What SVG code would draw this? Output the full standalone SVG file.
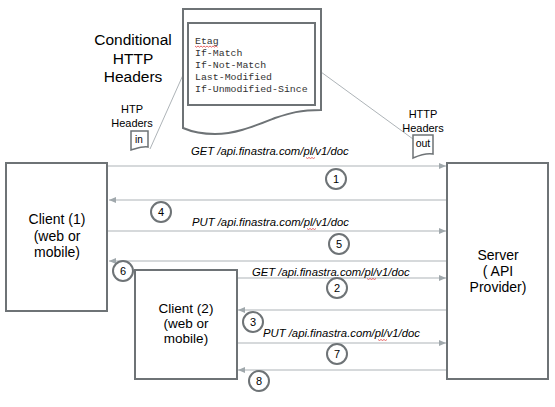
<svg xmlns="http://www.w3.org/2000/svg" width="555" height="407" viewBox="0 0 555 407">
<style>
.box{fill:#fff;stroke:#6e7376;stroke-width:2}
.doc{fill:#fff;stroke:#6e7376;stroke-width:2}
.conn{stroke:#aeb4b8;stroke-width:1;fill:none}
.arr{stroke:#aeb4b8;stroke-width:1.2;fill:none}
.circ{fill:#fff;stroke:#6e7376;stroke-width:2}
.t{font-family:"Liberation Sans",Arial,sans-serif;fill:#000;text-anchor:middle}
.lbl{font-family:"Liberation Sans",Arial,sans-serif;font-style:italic;font-size:11.3px;fill:#000}
.num{font-family:"Liberation Sans",Arial,sans-serif;font-size:11px;fill:#000;text-anchor:middle}
.mono{font-family:"Liberation Mono","Courier New",monospace;font-size:9.9px;fill:#333}
.sq{stroke:#e04040;stroke-width:0.8;fill:none}
</style>
<defs>
<marker id="ah" markerWidth="8" markerHeight="8" refX="7" refY="4" orient="auto" markerUnits="userSpaceOnUse">
<path d="M0,1 L7,4 L0,7 Z" fill="#a0a8ac"/>
</marker>
</defs>

<g id="title">
<text class="t" x="133" y="45" font-size="15.5">Conditional</text>
<text class="t" x="133" y="63.5" font-size="15.5">HTTP</text>
<text class="t" x="133" y="82" font-size="15.5">Headers</text>
</g>

<g id="connectors">
<line class="conn" x1="183" y1="75" x2="150" y2="149"/>
<line class="conn" x1="321" y1="72" x2="413" y2="139"/>
<line class="arr" x1="107" y1="166" x2="446" y2="166" marker-end="url(#ah)"/>
<line class="arr" x1="446" y1="200" x2="109" y2="200" marker-end="url(#ah)"/>
<line class="arr" x1="107" y1="231" x2="446" y2="231" marker-end="url(#ah)"/>
<line class="arr" x1="446" y1="261" x2="109" y2="261" marker-end="url(#ah)"/>
<line class="arr" x1="236" y1="278" x2="446" y2="278" marker-end="url(#ah)"/>
<line class="arr" x1="446" y1="310" x2="238" y2="310" marker-end="url(#ah)"/>
<line class="arr" x1="236" y1="343" x2="446" y2="343" marker-end="url(#ah)"/>
<line class="arr" x1="446" y1="370" x2="238" y2="370" marker-end="url(#ah)"/>
</g>

<g id="headers-doc">
<path class="doc" d="M183,9 H321 V110 C300,110 290,113 275,118 C252,127 235,134 215,134 C200,134 190,131 183,128 Z"/>
<rect x="188" y="23" width="127" height="82" fill="#fff" stroke="#6e7376" stroke-width="2"/>
<text class="mono" x="195" y="44">Etag</text>
<text class="mono" x="195" y="56">If-Match</text>
<text class="mono" x="195" y="68">If-Not-Match</text>
<text class="mono" x="195" y="80">Last-Modified</text>
<text class="mono" x="195" y="92">If-Unmodified-Since</text>
<path class="sq" d="M195,46 l1.5,1.2 l1.5,-1.2 l1.5,1.2 l1.5,-1.2 l1.5,1.2 l1.5,-1.2 l1.5,1.2 l1.5,-1.2 l1.5,1.2 l1.5,-1.2 l1.5,1.2 l1.5,-1.2 l1.5,1.2 l1.5,-1.2 l1.5,1.2"/>
</g>

<g id="in-icon">
<text class="t" x="132" y="113" font-size="11">HTP</text>
<text class="t" x="132" y="127" font-size="11">Headers</text>
<path d="M131,131 H148 V147 C143,146 138,148 131,150 Z" fill="#fff" stroke="#6e7376" stroke-width="1.5"/>
<text class="t" x="139" y="143" font-size="10">in</text>
</g>

<g id="out-icon">
<text class="t" x="423" y="118" font-size="11">HTTP</text>
<text class="t" x="423" y="132" font-size="11">Headers</text>
<path d="M413,135 H433 V154 C427,153 420,155 413,158 Z" fill="#fff" stroke="#6e7376" stroke-width="1.5"/>
<text class="t" x="423" y="147" font-size="10.5">out</text>
</g>

<g id="client1">
<rect class="box" x="6" y="163" width="101" height="148"/>
<text class="t" x="57" y="224" font-size="14">Client (1)</text>
<text class="t" x="57" y="240.5" font-size="14">(web or</text>
<text class="t" x="57" y="257" font-size="14">mobile)</text>
</g>

<g id="client2">
<rect class="box" x="135" y="270" width="102" height="109"/>
<text class="t" x="186" y="313" font-size="13.5">Client (2)</text>
<text class="t" x="186" y="328" font-size="13.5">(web or</text>
<text class="t" x="186" y="343" font-size="13.5">mobile)</text>
</g>

<g id="server">
<rect class="box" x="447" y="163" width="101" height="216"/>
<text class="t" x="498" y="260" font-size="14">Server</text>
<text class="t" x="498" y="276" font-size="14">( API</text>
<text class="t" x="498" y="292" font-size="14">Provider)</text>
</g>

<g id="labels">
<text class="lbl" x="191" y="155">GET /api.finastra.com/pl/v1/doc</text>
<text class="lbl" x="192" y="226">PUT /api.finastra.com/pl/v1/doc</text>
<text class="lbl" x="252" y="276">GET /api.finastra.com/pl/v1/doc</text>
<text class="lbl" x="263" y="337">PUT /api.finastra.com/pl/v1/doc</text>
<path class="sq" d="M306,157.5 l1.5,1 l1.5,-1 l1.5,1 l1.5,-1 l1.5,1 l1.5,-1"/>
<path class="sq" d="M307,228.5 l1.5,1 l1.5,-1 l1.5,1 l1.5,-1 l1.5,1 l1.5,-1"/>
<path class="sq" d="M367,278.5 l1.5,1 l1.5,-1 l1.5,1 l1.5,-1 l1.5,1 l1.5,-1"/>
<path class="sq" d="M378,339.5 l1.5,1 l1.5,-1 l1.5,1 l1.5,-1 l1.5,1 l1.5,-1"/>
</g>

<g id="steps">
<circle class="circ" cx="336" cy="179" r="10"/><text class="num" x="336" y="183">1</text>
<circle class="circ" cx="337" cy="288" r="10"/><text class="num" x="337" y="292">2</text>
<circle class="circ" cx="253" cy="322" r="10"/><text class="num" x="253" y="326">3</text>
<circle class="circ" cx="161" cy="212" r="10"/><text class="num" x="161" y="216">4</text>
<circle class="circ" cx="339" cy="244" r="10"/><text class="num" x="339" y="248">5</text>
<circle class="circ" cx="123" cy="271" r="10"/><text class="num" x="123" y="275">6</text>
<circle class="circ" cx="337" cy="354" r="10"/><text class="num" x="337" y="358">7</text>
<circle class="circ" cx="259" cy="381" r="10"/><text class="num" x="259" y="385">8</text>
</g>
</svg>
